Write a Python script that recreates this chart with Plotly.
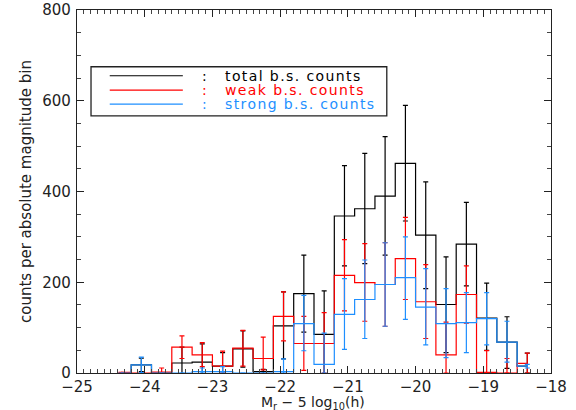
import plotly.graph_objects as go

# bin centres (absolute magnitude), bin width 0.3
centres = [-24.35, -24.05, -23.75, -23.45, -23.15, -22.85, -22.55, -22.25, -21.95, -21.65,
           -21.35, -21.05, -20.75, -20.45, -20.15, -19.85, -19.55, -19.25, -18.95, -18.65, -18.35]

total_counts = [0, 18, 0, 22, 24, 15, 53, 3, 104, 175,
                85, 346, 362, 390, 462, 304, 151, 284, 121, 68, 15]
total_err_up = [0, 15, 0, 35, 40, 30, 40, 5, 75, 85,
                96, 111, 122, 131, 128, 117, 105, 92, 77, 56, 29]
total_err_dn = [0, 15, 0, 35, 40, 30, 40, 5, 73, 85,
                96, 110, 121, 130, 127, 118, 106, 92, 71, 58, 15]

weak_counts = [1.5, 0, 2, 57, 40, 15, 55, 32, 125, 65,
               65, 215, 199, 195, 252, 157, 40, 173, 1.5, 0, 21]
weak_err_up = [0, 0, 9, 25, 27, 33, 39, 47, 54, 60,
               68, 79, 86, 92, 91, 82, 72, 63, 48, 32, 23]
weak_err_dn = [0, 0, 2, 25, 26, 15, 40, 25, 54, 59,
               65, 78, 85, 92, 90, 81, 40, 63, 1.5, 0, 21]

strong_counts = [0, 18, 0, 0, 3, 3, 0, 0, 3, 109,
                 19, 129, 162, 195, 210, 145, 109, 111, 120, 68, 15]
strong_err_up = [0, 17, 0, 0, 8, 11, 0, 0, 28, 62,
                 69, 79, 87, 92, 90, 85, 77, 66, 57, 46, 4]
strong_err_dn = [0, 17, 0, 0, 3, 3, 0, 0, 3, 60,
                 19, 77, 86, 92, 92, 83, 75, 66, 58, 44, 4]

series_names = ["total b.s. counts", "weak b.s. counts", "strong b.s. counts"]
series_colors = ["#000000", "#ff0000", "#1e8fff"]

x_ticks = [-25, -24, -23, -22, -21, -20, -19, -18]
y_ticks = [0, 200, 400, 600, 800]
x_range = [-25, -18]
y_range = [0, 800]
x_title = "M<sub>r</sub> \u2212 5 log<sub>10</sub>(h)"
y_title = "counts per absolute magnitude bin"

fig = go.Figure()

data = [
    (total_counts, total_err_up, total_err_dn),
    (weak_counts, weak_err_up, weak_err_dn),
    (strong_counts, strong_err_up, strong_err_dn),
]

for (vals, eu, ed), name, col in zip(data, series_names, series_colors):
    fig.add_trace(go.Scatter(
        x=centres, y=vals, mode="lines", line=dict(color=col, width=1.2, shape="hvh"),
        name=name, showlegend=False, hoverinfo="skip"))
    fig.add_trace(go.Scatter(
        x=centres, y=vals, mode="markers", marker=dict(size=1, color=col, opacity=0),
        error_y=dict(type="data", symmetric=False, array=eu, arrayminus=ed,
                     color=col, thickness=1.2, width=2.5),
        showlegend=False, hoverinfo="skip"))

# invisible trace so the mirrored (top/right) axes are drawn
fig.add_trace(go.Scatter(x=[x_range[0]], y=[y_range[0]], xaxis="x2", yaxis="y2",
                         mode="markers", marker=dict(size=1, opacity=0),
                         showlegend=False, hoverinfo="skip"))

font_family = "DejaVu Sans"
txt_col = "#222222"
ax_col = "#222222"

common_x = dict(range=x_range, tickvals=x_ticks, ticks="inside", ticklen=7, tickwidth=1.2,
                tickcolor=ax_col, showline=True, linecolor=ax_col, linewidth=1.3,
                showgrid=False, zeroline=False, automargin=False,
                minor=dict(ticks="inside", ticklen=3.5, dtick=0.1, tick0=-25,
                           tickcolor="#444", tickwidth=1, showgrid=False))
common_y = dict(range=y_range, tickvals=y_ticks, ticks="inside", ticklen=7, tickwidth=1.2,
                tickcolor=ax_col, showline=True, linecolor=ax_col, linewidth=1.3,
                showgrid=False, zeroline=False, automargin=False,
                minor=dict(ticks="inside", ticklen=4, dtick=50, tick0=0,
                           tickcolor="#444", tickwidth=1, showgrid=False))

fig.update_layout(
    width=576, height=410,
    margin=dict(l=77, r=25, t=10, b=37),
    paper_bgcolor="white", plot_bgcolor="white",
    font=dict(family=font_family, size=15, color=txt_col),
    showlegend=False,
    xaxis=dict(**common_x, tickfont=dict(size=15), ticklabelstandoff=0),
    yaxis=dict(**common_y, tickfont=dict(size=15), ticklabelstandoff=2,
               title=dict(text=y_title, font=dict(size=15), standoff=6)),
    xaxis2=dict(**common_x, overlaying="x", side="top", showticklabels=False),
    yaxis2=dict(**common_y, overlaying="y", side="right", showticklabels=False),
)

px0, px1, py0, py1 = 77.3, 550.7, 10.0, 372.7
def pxx(p):
    return (p - px0) / (px1 - px0)
def pyy(p):
    return (py1 - p) / (py1 - py0)

# x-axis title placed as annotation below tick labels
fig.add_annotation(xref="paper", yref="paper", x=pxx(313), y=pyy(393), text=x_title,
                   showarrow=False, font=dict(size=14, color=txt_col),
                   xanchor="center", yanchor="top", borderpad=0)

# legend box drawn manually (IDL-style)
fig.add_shape(type="rect", xref="paper", yref="paper",
              x0=pxx(91.3), x1=pxx(386.7), y0=pyy(115.7), y1=pyy(66.7),
              line=dict(color=ax_col, width=1.3), fillcolor="white", layer="above")
row_y = [75.7, 90.0, 104.0]
for ry, name, col in zip(row_y, series_names, series_colors):
    fig.add_shape(type="line", xref="paper", yref="paper",
                  x0=pxx(110), x1=pxx(183), y0=pyy(ry), y1=pyy(ry),
                  line=dict(color=col, width=1.2), layer="above")
    fig.add_annotation(xref="paper", yref="paper", x=pxx(205), y=pyy(ry), text=":",
                       showarrow=False, font=dict(color=col, size=14), xanchor="center",
                       yanchor="middle", borderpad=0)
    fig.add_annotation(xref="paper", yref="paper", x=pxx(224), y=pyy(ry),
                       text='<span style="letter-spacing:1.4px">' + name + '</span>',
                       showarrow=False, font=dict(color=col, size=14), xanchor="left",
                       yanchor="middle", borderpad=0)

fig.write_html("out.html")
